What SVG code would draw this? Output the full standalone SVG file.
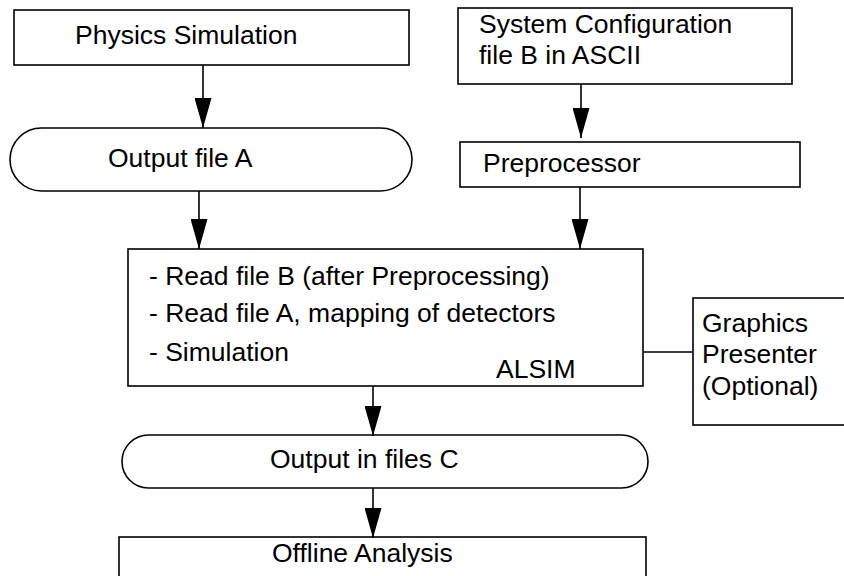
<svg xmlns="http://www.w3.org/2000/svg" width="844" height="576" viewBox="0 0 844 576">
  <style>
    .box { fill: #fff; stroke: #000; stroke-width: 1.6; }
    .lbl { font-family: "Liberation Sans", Arial, Helvetica, sans-serif; font-size: 26.5px; fill: #000; }
    .edge { stroke: #000; stroke-width: 1.6; fill: none; }
  </style>
  <defs>
    <marker id="arrow" markerUnits="userSpaceOnUse" markerWidth="30" markerHeight="17" refX="30" refY="8.5" orient="auto" viewBox="0 0 30 17">
      <path d="M0,0 L30,8.5 L0,17 Z" fill="#000"/>
    </marker>
  </defs>
  <rect width="844" height="576" fill="#fff"/>

  <g id="physics-simulation">
    <rect class="box" x="14" y="10" width="395" height="55"/>
    <text class="lbl" x="75" y="44">Physics Simulation</text>
  </g>

  <g id="output-file-a">
    <rect class="box" x="10" y="128" width="402" height="63" rx="31.5" ry="31.5"/>
    <text class="lbl" x="108" y="167">Output file A</text>
  </g>

  <g id="system-configuration">
    <rect class="box" x="458" y="8" width="334" height="76"/>
    <text class="lbl" x="479" y="33">System Configuration</text>
    <text class="lbl" x="479" y="64">file B in ASCII</text>
  </g>

  <g id="preprocessor">
    <rect class="box" x="460" y="142" width="340" height="45"/>
    <text class="lbl" x="483" y="172">Preprocessor</text>
  </g>

  <g id="alsim">
    <rect class="box" x="128" y="249" width="515" height="137"/>
    <text class="lbl" x="149" y="285">- Read file B (after Preprocessing)</text>
    <text class="lbl" x="149" y="322">- Read file A, mapping of detectors</text>
    <text class="lbl" x="149" y="361">- Simulation</text>
    <text class="lbl" x="496" y="378">ALSIM</text>
  </g>

  <g id="graphics-presenter">
    <rect class="box" x="693" y="298" width="160" height="127"/>
    <text class="lbl" x="702" y="332">Graphics</text>
    <text class="lbl" x="702" y="363">Presenter</text>
    <text class="lbl" x="702" y="395">(Optional)</text>
  </g>

  <g id="output-files-c">
    <rect class="box" x="122" y="435" width="526" height="53" rx="26.5" ry="26.5"/>
    <text class="lbl" x="270" y="468">Output in files C</text>
  </g>

  <g id="offline-analysis">
    <rect class="box" x="119" y="537" width="527" height="60"/>
    <text class="lbl" x="272" y="562">Offline Analysis</text>
  </g>

  <g id="connectors">
    <line class="edge" x1="203" y1="65" x2="203" y2="128" marker-end="url(#arrow)"/>
    <line class="edge" x1="199" y1="191" x2="199" y2="249" marker-end="url(#arrow)"/>
    <line class="edge" x1="581" y1="84" x2="581" y2="138" marker-end="url(#arrow)"/>
    <line class="edge" x1="580" y1="187" x2="580" y2="249" marker-end="url(#arrow)"/>
    <line class="edge" x1="373" y1="386" x2="373" y2="436" marker-end="url(#arrow)"/>
    <line class="edge" x1="373" y1="488" x2="373" y2="538" marker-end="url(#arrow)"/>
    <line class="edge" x1="643" y1="352" x2="693" y2="352"/>
  </g>
</svg>
